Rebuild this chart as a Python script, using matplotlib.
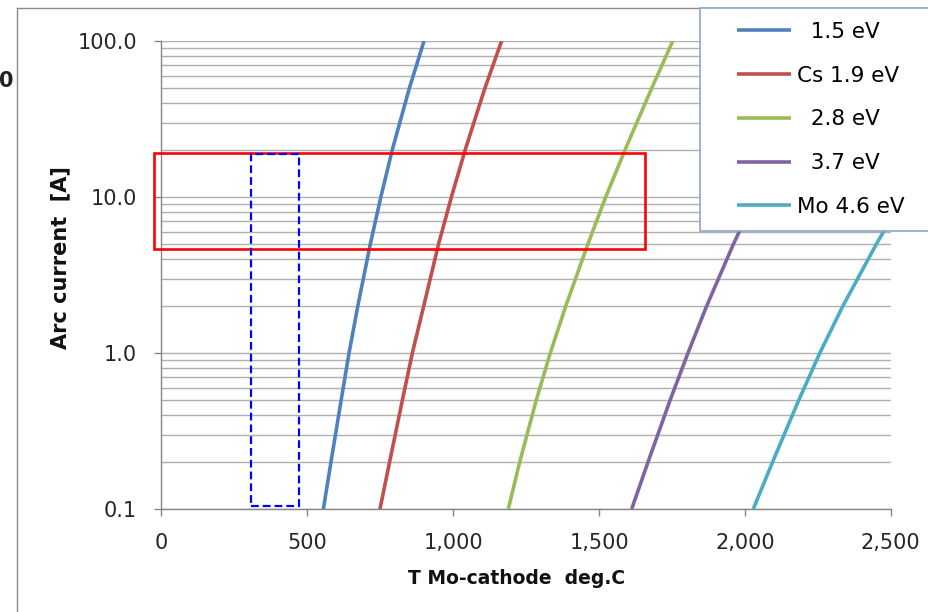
import matplotlib
matplotlib.use("Agg")
import matplotlib.pyplot as plt
from matplotlib.patches import Rectangle
from matplotlib.lines import Line2D
from matplotlib.ticker import FixedLocator, FuncFormatter, LogLocator, NullFormatter

# Arc current levels [A] shared by all curves
current = [0.1, 0.2, 0.5, 1, 2, 5, 10, 20, 50, 100]

# Cathode temperature [deg C] needed for each current, per work function
t_1_5 = [555, 581, 616, 643, 673, 716, 752, 791, 850, 900]
t_1_9 = [749, 782, 826, 860, 899, 950, 994, 1041, 1109, 1166]
t_2_8 = [1189, 1228, 1285, 1333, 1386, 1462, 1523, 1589, 1681, 1753]
t_3_7 = [1612, 1668, 1744, 1805, 1869, 1961, 2037, 2121, 2245, 2350]
t_4_6 = [2029, 2095, 2185, 2257, 2336, 2451, 2545, 2640, 2770, 2870]

series_labels = ["  1.5 eV", "Cs 1.9 eV", "  2.8 eV", "  3.7 eV", "Mo 4.6 eV"]
series_colors = ["#4F81BD", "#C0504D", "#9BBB59", "#8064A2", "#4BACC6"]

x_ticks = [0, 500, 1000, 1500, 2000, 2500]
y_ticks = [0.1, 1, 10, 100]

# highlighted regions (data units)
red_box = dict(x0=-26, x1=1658, y0=4.64, y1=19.1)
blue_box = dict(x0=308, x1=470, y0=0.105, y1=19.0)

W, H = 929, 612


def fx(px):
    return px / W


def fy(py):
    return 1 - py / H


fig = plt.figure(figsize=(W / 100, H / 100), dpi=100)
ax = fig.add_axes([fx(161.5), fy(509), (890.7 - 161.5) / W, (509 - 41) / H])

series = [t_1_5, t_1_9, t_2_8, t_3_7, t_4_6]
for temps, lab, col in zip(series, series_labels, series_colors):
    ax.plot(temps, current, color=col, lw=2.6, label=lab, solid_capstyle="butt",
            solid_joinstyle="round", zorder=3)

ax.set_yscale("log")
ax.set_xlim(0, 2500)
ax.set_ylim(0.1, 100)

ax.yaxis.set_major_locator(FixedLocator(y_ticks))
ax.yaxis.set_major_formatter(FuncFormatter(lambda v, p: f"{v:.1f}"))
ax.yaxis.set_minor_locator(LogLocator(base=10, subs=range(2, 10)))
ax.yaxis.set_minor_formatter(NullFormatter())
ax.xaxis.set_major_locator(FixedLocator(x_ticks))
ax.xaxis.set_major_formatter(FuncFormatter(lambda v, p: f"{int(v):,}"))

ax.grid(True, which="both", axis="y", color="#b0b0b0", lw=1.0, zorder=0)
ax.set_axisbelow(True)

for side in ("top", "right"):
    ax.spines[side].set_visible(False)
for side in ("left", "bottom"):
    ax.spines[side].set_color("#868686")
    ax.spines[side].set_linewidth(1.0)

ax.tick_params(axis="both", which="major", direction="out", length=5, width=1,
               color="#868686", labelsize=15, labelcolor="#262626")
ax.tick_params(axis="y", which="minor", length=0)
ax.tick_params(axis="y", which="major", pad=12.5)
ax.tick_params(axis="x", which="major", pad=12)

fig.text(fx(517), fy(578), "T Mo-cathode  deg.C", ha="center", va="center",
         fontsize=13.5, fontweight="bold", color="#111111")
fig.text(fx(60), fy(258), "Arc current  [A]", ha="center", va="center",
         rotation=90, fontsize=15, fontweight="bold", color="#111111")

# annotation boxes
ax.add_patch(Rectangle((red_box["x0"], red_box["y0"]), red_box["x1"] - red_box["x0"],
                       red_box["y1"] - red_box["y0"], fill=False, ec="#FF0000", lw=1.9,
                       clip_on=False, zorder=5))
ax.add_patch(Rectangle((blue_box["x0"], blue_box["y0"]), blue_box["x1"] - blue_box["x0"],
                       blue_box["y1"] - blue_box["y0"], fill=False, ec="#0000FF", lw=1.6,
                       ls=(0, (3.5, 1.8)), clip_on=False, zorder=6))

# chart frame
fig.add_artist(Line2D([fx(17), fx(17)], [fy(8), 0], color="#8c8c8c", lw=1.0))
fig.add_artist(Line2D([fx(17), 1], [fy(8), fy(8)], color="#8c8c8c", lw=1.0))

# legend box
leg_bg = Rectangle((fx(700), fy(231)), 1 - fx(700) + 0.05, fy(8) - fy(231),
                   transform=fig.transFigure, fc="white", ec="#8EA5C2", lw=1.2, zorder=10)
fig.add_artist(leg_bg)
handles, labels = ax.get_legend_handles_labels()
leg = fig.legend(handles, labels, loc="upper left", bbox_to_anchor=(fx(737), fy(22)),
                 frameon=False, fontsize=15.5, handlelength=2.5, handletextpad=0.3,
                 labelspacing=1.1, borderaxespad=0, borderpad=0)
leg.set_zorder(11)

fig.text(fx(-1), fy(81), "0", ha="left", va="center", fontsize=15,
         fontweight="bold", color="#222222")

fig.savefig("out.png", dpi=100, facecolor="white")
